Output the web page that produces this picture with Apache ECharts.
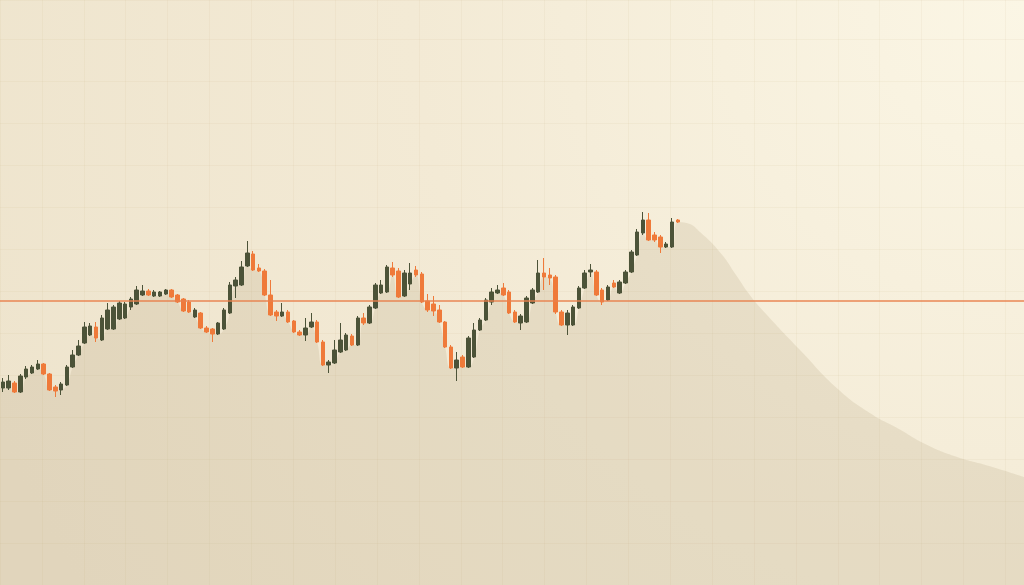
<!DOCTYPE html>
<html>
<head>
<meta charset="utf-8">
<script src="https://cdn.jsdelivr.net/npm/echarts@6/dist/echarts.min.js"></script>
<style>
html,body{margin:0;padding:0;width:1024px;height:585px;overflow:hidden;background:#ede3cc;}
#chart{width:1024px;height:585px;}
</style>
</head>
<body>
<div id="chart"></div>
<script>
// ---- data (prices) ----
const openP  = [98.5,98.5,101,96.5,104,106,108,110.5,105.5,99,97.5,100,109,115,121,125,129,122.5,128,128,133,133.5,139,140.5,145,147,144.5,144.5,145.5,147.5,145,143,141.5,134,136,128.5,128,125.5,128,136,149.5,150,159.5,165.5,158.5,157,145,136.5,134.5,136.5,132,126.5,125,129,131.5,121.5,110,111,116.5,117.5,124.5,120,133.5,131,138.5,146,146.5,158.5,157,144.5,150.5,157.5,155.5,142,140.5,137.5,131.5,119,108.5,114,109,114,127.5,132.5,141.5,146,148.5,146.5,136.5,131,131.5,141,146.5,156,155,154,136.5,130,130,138.5,148.5,156.5,156.5,147.5,142.5,151,146,151,156.5,165,176,182.5,175,174,169,169,182.5];
const closeP = [101.5,102,96.5,104.5,108,109,110.5,105.5,97.5,97,100.5,109,115,119.5,129,129.5,123.5,133.5,137.5,139,141,140.5,143,147.5,147,145,146.5,146.5,147.5,144,141.5,137,136.5,137.5,128.5,126.5,125.5,131,137.5,150,152.5,159,166,157.5,157,145,135,134.5,136.5,131.5,126.5,125,128.5,131.5,121.5,110,111.5,117.5,122.5,125,120,133.5,131,139,150,150,159,155,144,156,156,155,141.5,137.5,137,131.5,119,108.5,112.5,109,123.5,127.5,132.5,142.5,146.5,147.5,145,136,131.5,134.5,143.5,147.5,156,154,153.5,136.5,130,136,139,148.5,156,157.5,145,141.5,149,149,151.5,156.5,166.5,176.5,182.5,172.5,172.5,169,170.5,181.5,181.5];
const lowP   = [96.5,97.5,96,96,103,105.5,107.5,105,97,94,95,99.5,108.5,114.5,120.5,124.5,121.5,122,127.5,127.5,132.5,133,137.5,140,144.5,144.5,144,144,145,143.5,141,136.5,136,133.5,128,126,121.5,125,127.5,135.5,143.5,149.5,159,157,156.5,144.5,134.5,132,134,131,126,124.5,122,128.5,121,109.5,106,110.5,116,117,119.5,119.5,130,130.5,138,145.5,146,154,143.5,144,147.5,154,141,136.5,134.5,131,118.5,108,102,108.5,108.5,113.5,127,132,140,145.5,144.5,135.5,131,127.5,131,140.5,146,147.5,150,135.5,129.5,125,129.5,138,148,154,144.5,140,142,148.5,145.5,150.5,156,164.5,175,172,171.5,166,168.5,168.5,181];
const highP  = [103.5,105,102,105.5,109.5,110,112.5,111,106,100,101.5,110,117.5,122.5,131.5,131,131.5,135,141,140,142,141.5,144,149.5,150,148,147.5,147,148,148,145.5,143.5,142.5,138.5,136.5,129.5,128.5,131.5,138.5,151.5,154,162,172,167,160.5,158,152.5,137.5,141,137.5,132.5,127.5,133.5,136,132.5,122.5,112.5,122.5,131,126,125.5,134.5,136,140,151,152.5,160,161.5,158.5,157.5,161,159.5,156.5,145.5,144.5,140,132,120,116.5,115,124.5,131,133.5,143.5,148.5,150,151,147.5,137.5,135.5,144.5,148.5,162.5,163.5,158.5,155,137.5,137.5,140,149.5,157.5,160.5,157.5,148.5,150,152.5,152.5,157.5,167.5,178,186.5,186,176.5,175,171.5,183.5,183];
// shaded mountain after the last candle: slot position and price
const tailX = [118, 120.5, 124, 126.5, 129, 131.5, 137.5, 144, 149.5, 154.5, 159, 164.5, 170, 176];
const tailY = [181, 176, 165.5, 155, 144.5, 136, 117.5, 98, 86, 78, 70.5, 64, 59.5, 54];
const refLevel = 142;
const slotCount = 176;
const categories = Array.from({length: slotCount}, (_, i) => 'T' + (i + 1));

// ---- build series ----
const candles = openP.map((o, i) => [o, closeP[i], lowP[i], highP[i]]);
const areaPts = [[0, Math.min(openP[0], closeP[0])]];
openP.forEach((o, i) => areaPts.push([i + 0.5, Math.min(o, closeP[i])]));
tailX.forEach((x, i) => areaPts.push([x, tailY[i]]));

const chart = echarts.init(document.getElementById('chart'), null, {renderer: 'canvas'});
chart.setOption({
  animation: false,
  backgroundColor: {
    type: 'radial', x: 1, y: 0, r: 1.9,
    colorStops: [
      {offset: 0, color: '#fbf6e5'},
      {offset: 0.55, color: '#f3ead5'},
      {offset: 1, color: '#eee4cd'}
    ]
  },
  grid: {left: 0, right: 0, top: 0, bottom: 0, containLabel: false},
  xAxis: [
    {type: 'category', data: categories, boundaryGap: true,
     axisLine: {show: false}, axisTick: {show: false}, axisLabel: {show: false}, splitLine: {show: false}},
    {type: 'value', min: 0, max: slotCount, interval: 7.2,
     axisLine: {show: false}, axisTick: {show: false}, axisLabel: {show: false},
     splitLine: {show: true, lineStyle: {color: 'rgba(190,160,120,0.08)', width: 1}}}
  ],
  yAxis: [
    {type: 'value', min: 0, max: 292.5, interval: 21,
     axisLine: {show: false}, axisTick: {show: false}, axisLabel: {show: false},
     splitLine: {show: true, lineStyle: {color: 'rgba(190,160,120,0.08)', width: 1}}}
  ],
  series: [
    {
      type: 'line', xAxisIndex: 1, yAxisIndex: 0, z: 1,
      data: areaPts, smooth: 0.5, showSymbol: false, symbol: 'none',
      lineStyle: {width: 0, color: 'rgba(0,0,0,0)'},
      areaStyle: {color: 'rgba(150,125,85,0.2)'},
      silent: true,
      markLine: {
        silent: true, symbol: ['none', 'none'], label: {show: false},
        lineStyle: {color: '#e8814c', width: 1.7, type: 'solid', opacity: 0.95},
        data: [{yAxis: refLevel}]
      }
    },
    {
      type: 'candlestick', xAxisIndex: 0, yAxisIndex: 0, z: 3,
      data: candles, barWidth: '68%',
      itemStyle: {
        color: '#4c5338', color0: '#ef7a3a',
        borderColor: '#4c5338', borderColor0: '#ef7a3a', borderWidth: 1
      }
    }
  ]
});
</script>
</body>
</html>
